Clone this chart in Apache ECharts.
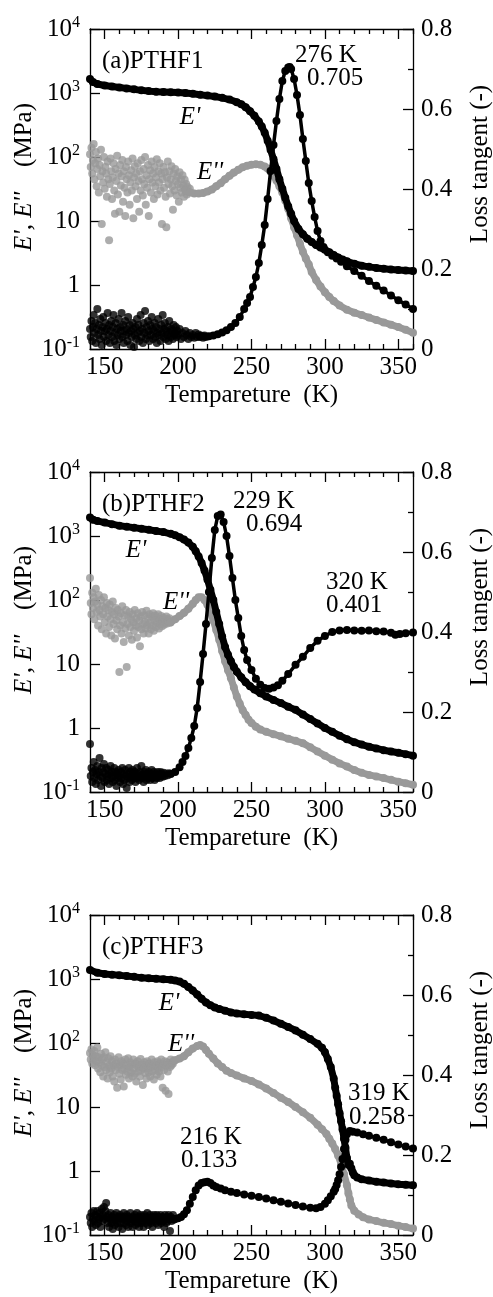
<!DOCTYPE html>
<html>
<head>
<meta charset="utf-8">
<script src="https://cdn.jsdelivr.net/npm/echarts@6/dist/echarts.min.js"></script>
<style>
html,body{margin:0;padding:0;background:#fff;}
#chart{width:493px;height:1297px;}
</style>
</head>
<body>
<div id="chart"></div>
<script>
// ---------------- DATA ----------------
// Tick labels
const xTickMajor = [150, 200, 250, 300, 350];
const xTickMinor = [140, 160, 170, 180, 190, 210, 220, 230, 240, 260, 270, 280, 290, 310, 320, 330, 340, 360];
const panelLabels = ['(a)PTHF1', '(b)PTHF2', '(c)PTHF3'];

// Panel (a) PTHF1  — [temperature K, value]
const aEp = [[140,1650],[142,1480],[145,1380],[150,1310],[155,1260],[160,1220],[165,1180],[170,1140],[175,1100],[180,1070],[185,1050],[190,1040],[195,1030],[200,1020],[205,1000],[210,970],[215,940],[220,910],[225,880],[230,840],[235,790],[240,720],[243,670],[246,600],[249,520],[252,440],[255,360],[257,300],[259,240],[261,180],[263,130],[265,92],[267,65],[269,45],[271,32],[273,23],[275,17],[277,13],[279,10],[282,7.5],[285,6.2],[288,5.3],[291,4.7],[294,4.2],[297,3.85],[300,3.55],[303,3.25],[306,2.95],[309,2.7],[312,2.5],[315,2.35],[320,2.15],[325,2.0],[330,1.92],[335,1.85],[340,1.8],[345,1.75],[350,1.71],[355,1.68],[360,1.65]];
const aEpp = [[205,30],[208,28],[211,27],[214,27],[217,27.5],[220,29],[223,31],[226,35],[229,39],[232,45],[235,51],[238,57],[241,63],[244,69],[247,73],[250,76],[253,77],[256,76],[259,71],[261,66],[263,59],[265,51],[267,43],[269,35],[271,28],[273,21],[275,15.5],[277,11],[279,8],[281,6],[283,4.4],[285,3.3],[287,2.6],[289,2.1],[291,1.6],[294,1.2],[297,0.95],[300,0.77],[303,0.65],[306,0.56],[310,0.48],[315,0.41],[320,0.37],[325,0.34],[330,0.31],[335,0.285],[340,0.26],[345,0.24],[350,0.22],[355,0.2],[360,0.18]];
const aEppNoise = [[140,110],[140.5,70],[141,140],[141.5,55],[142,90],[142.5,160],[143,45],[143.5,80],[144,120],[144.5,35],[145,65],[145.5,95],[146,28],[146.5,75],[147,50],[147.5,130],[148,9],[148.5,60],[149,40],[149.5,100],[150,32],[150.5,70],[151,55],[151.5,24],[152,85],[152.5,45],[153,5],[153.5,38],[154,95],[154.5,60],[155,22],[155.5,48],[156,80],[156.5,30],[157,13],[157.5,65],[158,42],[158.5,105],[159,26],[159.5,55],[160,14],[160.5,75],[161,36],[161.5,50],[162,90],[162.5,20],[163,60],[163.5,33],[164,12],[164.5,70],[165,45],[165.5,28],[166,85],[166.5,52],[167,18],[167.5,40],[168,62],[168.5,30],[169,95],[169.5,11],[170,48],[170.5,72],[171,35],[171.5,55],[172,22],[172.5,80],[173,42],[173.5,14],[174,60],[174.5,30],[175,90],[175.5,45],[176,25],[176.5,65],[177,38],[177.5,100],[178,18],[178.5,52],[179,33],[179.5,75],[180,12],[180.5,45],[181,62],[181.5,28],[182,85],[182.5,40],[183,55],[183.5,22],[184,70],[184.5,35],[185,48],[185.5,92],[186,26],[186.5,60],[187,40],[187.5,80],[188,30],[188.5,55],[189,9],[189.5,45],[190,70],[190.5,33],[191,58],[191.5,24],[192,8],[192.5,48],[193,85],[193.5,38],[194,60],[194.5,27],[195,45],[195.5,72],[196,35],[196.5,15],[197,55],[197.5,30],[198,65],[198.5,42],[199,25],[199.5,50],[200,38],[200.5,20],[201,58],[201.5,33],[202,45],[202.5,28],[203,52],[203.5,36],[204,24],[204.5,44],[205,31],[205.5,38],[206,26],[206.5,34],[207,29],[208,32]];
const aTan = [[215,0.032],[218,0.031],[221,0.032],[224,0.034],[227,0.037],[230,0.041],[233,0.047],[236,0.055],[239,0.065],[242,0.08],[245,0.1],[247,0.115],[249,0.13],[251,0.155],[253,0.18],[255,0.215],[257,0.26],[259,0.31],[261,0.375],[263,0.445],[265,0.51],[267,0.57],[269,0.625],[271,0.67],[273,0.695],[275,0.704],[276,0.705],[277,0.7],[279,0.675],[281,0.635],[283,0.585],[285,0.525],[287,0.47],[289,0.415],[291,0.37],[293,0.33],[295,0.295],[297,0.27],[299,0.255],[302,0.242],[305,0.233],[308,0.226],[311,0.218],[315,0.207],[320,0.195],[325,0.183],[330,0.17],[335,0.158],[340,0.146],[345,0.134],[350,0.122],[355,0.111],[360,0.1]];
const aTanNoise = [[140,0.05],[140.5,0.03],[141,0.07],[141.5,0.02],[142,0.055],[142.5,0.085],[143,0.04],[143.5,0.065],[144,0.015],[144.5,0.05],[145,0.1],[145.5,0.035],[146,0.06],[146.5,0.025],[147,0.075],[147.5,0.045],[148,0.01],[148.5,0.055],[149,0.08],[149.5,0.03],[150,0.045],[150.5,0.065],[151,0.02],[151.5,0.05],[152,0.09],[152.5,0.035],[153,0.06],[153.5,0.015],[154,0.045],[154.5,0.07],[155,0.03],[155.5,0.055],[156,0.085],[156.5,0.02],[157,0.04],[157.5,0.065],[158,0.01],[158.5,0.05],[159,0.035],[159.5,0.075],[160,0.025],[160.5,0.055],[161,0.045],[161.5,0.09],[162,0.03],[162.5,0.06],[163,0.015],[163.5,0.045],[164,0.07],[164.5,0.035],[165,0.05],[165.5,0.02],[166,0.08],[166.5,0.04],[167,0.06],[167.5,0.01],[168,0.045],[168.5,0.03],[169,0.065],[169.5,0.05],[170,0.005],[170.5,0.035],[171,0.055],[171.5,0.025],[172,0.075],[172.5,0.04],[173,0.06],[173.5,0.02],[174,0.045],[174.5,0.085],[175,0.03],[175.5,0.05],[176,0.015],[176.5,0.065],[177,0.04],[177.5,0.095],[178,0.025],[178.5,0.055],[179,0.035],[179.5,0.07],[180,0.045],[180.5,0.02],[181,0.06],[181.5,0.035],[182,0.08],[182.5,0.05],[183,0.025],[183.5,0.045],[184,0.065],[184.5,0.03],[185,0.055],[185.5,0.015],[186,0.04],[186.5,0.075],[187,0.035],[187.5,0.05],[188,0.02],[188.5,0.06],[189,0.04],[189.5,0.085],[190,0.03],[190.5,0.05],[191,0.065],[191.5,0.025],[192,0.045],[192.5,0.035],[193,0.055],[193.5,0.02],[194,0.07],[194.5,0.04],[195,0.03],[195.5,0.05],[196,0.045],[196.5,0.025],[197,0.06],[197.5,0.035],[198,0.04],[198.5,0.055],[199,0.03],[199.5,0.045],[200,0.035],[201,0.05],[202,0.025],[203,0.04],[204,0.03],[205,0.045],[206,0.035],[207,0.025],[208,0.04],[209,0.03],[210,0.035],[211,0.028],[212,0.04],[213,0.03],[214,0.036],[215,0.03],[216,0.033],[217,0.028],[218,0.034],[219,0.03]];

// Panel (b) PTHF2
const bEp = [[140,1950],[142,1800],[145,1720],[150,1620],[155,1530],[160,1450],[165,1400],[170,1350],[175,1300],[180,1250],[185,1200],[190,1150],[195,1080],[198,1030],[201,960],[204,880],[207,790],[210,680],[212,580],[214,480],[216,380],[218,290],[220,210],[222,145],[224,100],[226,65],[228,42],[230,27],[232,18.5],[234,14],[236,11],[238,9],[240,7.6],[243,6.2],[246,5.2],[249,4.5],[252,4.0],[256,3.5],[260,3.1],[265,2.75],[270,2.45],[275,2.15],[280,1.92],[285,1.62],[290,1.38],[295,1.18],[300,1.0],[305,0.87],[310,0.76],[315,0.67],[320,0.6],[325,0.55],[330,0.51],[335,0.48],[340,0.45],[345,0.43],[350,0.41],[355,0.39],[360,0.37]];
const bEpp = [[195,45],[198,50],[201,56],[204,63],[207,73],[210,87],[212,100],[214,110],[216,110],[218,100],[220,84],[222,66],[224,48],[226,34],[228,24],[230,16],[232,11],[234,8],[236,6],[238,4.3],[240,3.1],[242,2.4],[244,1.9],[246,1.6],[248,1.35],[250,1.2],[253,1.05],[256,0.95],[260,0.87],[265,0.8],[270,0.74],[275,0.68],[280,0.63],[285,0.58],[290,0.5],[295,0.43],[300,0.37],[305,0.32],[310,0.28],[315,0.25],[320,0.22],[325,0.2],[330,0.185],[335,0.175],[340,0.165],[345,0.155],[350,0.145],[355,0.137],[360,0.13]];
const bEppNoise = [[140,220],[140.5,90],[141,60],[141.5,130],[142,75],[142.5,110],[143,50],[143.5,95],[144,150],[144.5,65],[145,85],[145.5,40],[146,120],[146.5,70],[147,55],[147.5,100],[148,35],[148.5,80],[149,60],[149.5,110],[150,45],[150.5,75],[151,30],[151.5,90],[152,55],[152.5,70],[153,38],[153.5,85],[154,50],[154.5,28],[155,65],[155.5,95],[156,42],[156.5,60],[157,25],[157.5,75],[158,48],[158.5,35],[159,70],[159.5,55],[160,7.5],[160.5,40],[161,62],[161.5,30],[162,80],[162.5,45],[163,22],[163.5,58],[164,36],[164.5,70],[165,9],[165.5,42],[166,55],[166.5,28],[167,65],[167.5,38],[168,50],[168.5,24],[169,60],[169.5,45],[170,33],[170.5,70],[171,40],[171.5,52],[172,26],[172.5,62],[173,38],[173.5,48],[174,19],[174.5,55],[175,35],[175.5,65],[176,42],[176.5,30],[177,58],[177.5,45],[178,36],[178.5,68],[179,40],[179.5,52],[180,30],[180.5,60],[181,44],[181.5,35],[182,55],[182.5,40],[183,62],[183.5,33],[184,48],[184.5,57],[185,38],[185.5,52],[186,44],[186.5,60],[187,36],[187.5,50],[188,42],[188.5,56],[189,39],[189.5,47],[190,53],[190.5,41],[191,49],[191.5,45],[192,55],[192.5,43],[193,50],[193.5,46],[194,52],[194.5,44]];
const bTan = [[195,0.045],[198,0.05],[201,0.062],[203,0.075],[205,0.09],[207,0.11],[209,0.135],[211,0.165],[213,0.21],[215,0.275],[217,0.345],[219,0.42],[221,0.5],[223,0.585],[225,0.655],[227,0.69],[229,0.694],[231,0.675],[233,0.64],[235,0.59],[237,0.535],[239,0.48],[241,0.435],[243,0.39],[245,0.355],[247,0.33],[250,0.305],[253,0.283],[256,0.268],[259,0.26],[262,0.258],[265,0.261],[268,0.267],[271,0.278],[275,0.295],[280,0.318],[285,0.338],[290,0.36],[295,0.378],[300,0.39],[305,0.4],[310,0.404],[315,0.405],[320,0.404],[325,0.403],[330,0.404],[335,0.402],[340,0.401],[345,0.398],[348,0.393],[351,0.395],[355,0.397],[360,0.399]];
const bTanNoise = [[140,0.12],[140.5,0.04],[141,0.06],[141.5,0.025],[142,0.05],[142.5,0.075],[143,0.035],[143.5,0.055],[144,0.02],[144.5,0.045],[145,0.065],[145.5,0.03],[146,0.05],[146.5,0.085],[147,0.04],[147.5,0.015],[148,0.06],[148.5,0.035],[149,0.05],[149.5,0.07],[150,0.025],[150.5,0.045],[151,0.06],[151.5,0.03],[152,0.04],[152.5,0.055],[153,0.02],[153.5,0.045],[154,0.065],[154.5,0.035],[155,0.05],[155.5,0.025],[156,0.04],[156.5,0.06],[157,0.03],[157.5,0.05],[158,0.015],[158.5,0.045],[159,0.035],[159.5,0.055],[160,0.04],[160.5,0.025],[161,0.05],[161.5,0.035],[162,0.06],[162.5,0.02],[163,0.045],[163.5,0.03],[164,0.055],[164.5,0.04],[165,0.01],[165.5,0.045],[166,0.035],[166.5,0.06],[167,0.025],[167.5,0.05],[168,0.04],[168.5,0.03],[169,0.055],[169.5,0.045],[170,0.035],[170.5,0.05],[171,0.025],[171.5,0.04],[172,0.06],[172.5,0.035],[173,0.045],[173.5,0.03],[174,0.05],[174.5,0.04],[175,0.065],[175.5,0.035],[176,0.045],[176.5,0.025],[177,0.05],[177.5,0.04],[178,0.055],[178.5,0.03],[179,0.045],[179.5,0.035],[180,0.05],[180.5,0.04],[181,0.03],[181.5,0.045],[182,0.055],[182.5,0.035],[183,0.04],[183.5,0.05],[184,0.03],[184.5,0.045],[185,0.04],[185.5,0.035],[186,0.05],[186.5,0.04],[187,0.045],[187.5,0.035],[188,0.05],[188.5,0.04],[189,0.045],[189.5,0.038],[190,0.048],[191,0.04],[192,0.046],[193,0.042],[194,0.047]];

// Panel (c) PTHF3
const cEp = [[140,1380],[145,1250],[150,1200],[155,1170],[160,1140],[165,1110],[170,1080],[175,1050],[180,1030],[185,1010],[190,990],[195,970],[198,950],[201,910],[204,840],[207,750],[210,660],[213,570],[216,490],[219,430],[222,390],[225,360],[228,340],[232,320],[236,300],[240,290],[245,282],[250,275],[255,268],[260,248],[265,225],[270,200],[275,178],[280,157],[285,135],[290,115],[295,97],[298,84],[300,72],[302,56],[304,42],[306,28],[307,20],[308,15],[309,11],[310,8],[311,6],[312,4.5],[313,3.2],[314,2.3],[315,1.6],[316,1.25],[317,1.3],[318,1.1],[319,0.95],[320,0.86],[322,0.79],[325,0.74],[330,0.71],[335,0.68],[340,0.66],[345,0.64],[350,0.62],[355,0.61],[360,0.6]];
const cEpp = [[198,54],[201,57],[204,62],[207,72],[210,82],[213,90],[215,93],[217,88],[219,78],[221,68],[224,57],[227,48],[230,42],[233,37],[236,34],[240,31],[245,28],[250,25.5],[255,22.5],[260,19.5],[265,16.5],[270,14],[275,12],[280,10],[285,8.3],[290,6.8],[295,5.3],[298,4.5],[301,3.8],[303,3.2],[305,2.7],[307,2.2],[309,1.75],[311,1.3],[313,0.9],[315,0.6],[316,0.45],[317,0.36],[318,0.29],[320,0.24],[323,0.21],[326,0.19],[330,0.175],[335,0.165],[340,0.155],[345,0.148],[350,0.14],[355,0.133],[360,0.126]];
const cEppNoise = [[140,70],[140.5,55],[141,80],[141.5,48],[142,65],[142.5,58],[143,75],[143.5,45],[144,62],[144.5,52],[145,85],[145.5,40],[146,60],[146.5,50],[147,35],[147.5,68],[148,45],[148.5,55],[149,30],[149.5,60],[150,42],[150.5,72],[151,38],[151.5,50],[152,28],[152.5,58],[153,44],[153.5,35],[154,62],[154.5,40],[155,52],[155.5,30],[156,45],[156.5,25],[157,55],[157.5,38],[158,48],[158.5,20],[159,42],[159.5,60],[160,33],[160.5,45],[161,27],[161.5,52],[162,38],[162.5,48],[163,21],[163.5,40],[164,55],[164.5,32],[165,45],[165.5,36],[166,58],[166.5,28],[167,42],[167.5,50],[168,35],[168.5,46],[169,30],[169.5,55],[170,40],[170.5,33],[171,48],[171.5,25],[172,44],[172.5,52],[173,36],[173.5,42],[174,30],[174.5,56],[175,38],[175.5,46],[176,22],[176.5,40],[177,50],[177.5,34],[178,45],[178.5,28],[179,52],[179.5,40],[180,35],[180.5,48],[181,30],[181.5,42],[182,55],[182.5,36],[183,44],[183.5,27],[184,50],[184.5,38],[185,45],[185.5,32],[186,52],[186.5,40],[187,36],[187.5,48],[188,30],[188.5,55],[189,42],[189.5,20],[190,46],[190.5,38],[191,52],[191.5,18],[192,44],[192.5,50],[193,36],[193.5,16],[194,48],[194.5,42],[195,55],[195.5,45],[196,50],[196.5,48],[197,53]];
const cTan = [[198,0.04],[200,0.042],[202,0.045],[204,0.052],[206,0.062],[208,0.078],[210,0.095],[212,0.112],[214,0.124],[216,0.13],[218,0.132],[220,0.133],[222,0.13],[224,0.124],[226,0.12],[229,0.116],[232,0.112],[236,0.108],[240,0.105],[245,0.101],[250,0.098],[255,0.095],[260,0.091],[265,0.087],[270,0.083],[275,0.079],[280,0.075],[285,0.071],[290,0.068],[294,0.067],[297,0.07],[300,0.078],[302,0.087],[304,0.097],[306,0.108],[307,0.115],[308,0.125],[309,0.137],[310,0.152],[311,0.17],[312,0.19],[313,0.215],[314,0.238],[315,0.252],[317,0.26],[319,0.258],[322,0.256],[326,0.252],[330,0.248],[335,0.243],[340,0.238],[345,0.232],[350,0.226],[355,0.221],[360,0.216]];
const cTanNoise = [[140,0.045],[140.5,0.03],[141,0.055],[141.5,0.02],[142,0.04],[142.5,0.06],[143,0.035],[143.5,0.05],[144,0.025],[144.5,0.045],[145,0.06],[145.5,0.03],[146,0.04],[146.5,0.055],[147,0.02],[147.5,0.045],[148,0.065],[148.5,0.035],[149,0.05],[149.5,0.07],[150,0.04],[150.5,0.06],[151,0.08],[151.5,0.045],[152,0.03],[152.5,0.05],[153,0.02],[153.5,0.04],[154,0.055],[154.5,0.03],[155,0.045],[155.5,0.015],[156,0.035],[156.5,0.05],[157,0.025],[157.5,0.04],[158,0.055],[158.5,0.03],[159,0.045],[159.5,0.02],[160,0.04],[160.5,0.05],[161,0.03],[161.5,0.045],[162,0.015],[162.5,0.04],[163,0.055],[163.5,0.03],[164,0.045],[164.5,0.025],[165,0.05],[165.5,0.035],[166,0.02],[166.5,0.045],[167,0.04],[167.5,0.055],[168,0.03],[168.5,0.04],[169,0.02],[169.5,0.045],[170,0.035],[170.5,0.05],[171,0.025],[171.5,0.04],[172,0.055],[172.5,0.03],[173,0.045],[173.5,0.02],[174,0.04],[174.5,0.05],[175,0.03],[175.5,0.045],[176,0.035],[176.5,0.02],[177,0.05],[177.5,0.04],[178,0.03],[178.5,0.045],[179,0.055],[179.5,0.025],[180,0.04],[180.5,0.035],[181,0.05],[181.5,0.03],[182,0.045],[182.5,0.02],[183,0.04],[183.5,0.05],[184,0.035],[184.5,0.045],[185,0.03],[185.5,0.05],[186,0.04],[186.5,0.025],[187,0.045],[187.5,0.035],[188,0.05],[188.5,0.03],[189,0.04],[189.5,0.045],[190,0.035],[190.5,0.02],[191,0.05],[191.5,0.04],[192,0.03],[192.5,0.045],[193,0.035],[193.5,0.05],[194,0.04],[194.5,0.01],[195,0.045],[195.5,0.035],[196,0.04],[196.5,0.05],[197,0.038]];

// Peak annotations (text)
const aNotes = [['276 K', 326, 55], ['0.705', 335, 78]];
const bNotes = [['229 K', 264, 501], ['0.694', 274, 524], ['320 K', 357, 582], ['0.401', 354, 605]];
const cNotes = [['216 K', 211, 1137], ['0.133', 209, 1160], ['319 K', 379, 1093], ['0.258', 377, 1117]];

// ---------------- CHART ----------------
const FONT = "'Liberation Serif', 'Times New Roman', serif";
const FS = 25;
const BLACK = '#000000';
const GRAY = '#999999';
const GRID_LEFT = 90, GRID_W = 323, GRID_H = 320;
const panels = [
  { top: 29,  Ep: aEp, Epp: aEpp, EppN: aEppNoise, tan: aTan, tanN: aTanNoise, notes: aNotes, ep1: [190,117], ep2: [210,172] },
  { top: 472, Ep: bEp, Epp: bEpp, EppN: bEppNoise, tan: bTan, tanN: bTanNoise, notes: bNotes, ep1: [136,550], ep2: [176,602] },
  { top: 915, Ep: cEp, Epp: cEpp, EppN: cEppNoise, tan: cTan, tanN: cTanNoise, notes: cNotes, ep1: [169,1003], ep2: [181,1044] }
];

function logLabel(v) {
  const e = Math.round(Math.log10(v));
  if (e === 0) return '{b|1}';
  if (e === 1) return '{b|10}';
  return '{b|10}{s|' + e + '}';
}

const grid = [], xAxis = [], yAxis = [], series = [], graphic = [];
const axisLineStyle = { color: BLACK, width: 1.3 };

panels.forEach((p, i) => {
  grid.push({ left: GRID_LEFT, width: GRID_W, top: p.top, height: GRID_H });
  const xBase = { type: 'value', gridIndex: i, min: 140, max: 360, splitLine: { show: false } };
  xAxis.push(Object.assign({}, xBase, {
    position: 'bottom',
    axisLine: { show: true, onZero: false, lineStyle: axisLineStyle },
    axisTick: { show: true, inside: true, length: 10, customValues: xTickMajor, lineStyle: axisLineStyle },
    axisLabel: { show: true, customValues: xTickMajor, fontSize: FS, fontFamily: FONT, color: BLACK, margin: 6 }
  }));
  xAxis.push(Object.assign({}, xBase, {
    position: 'bottom',
    axisLine: { show: false, onZero: false },
    axisTick: { show: true, inside: true, length: 5, customValues: xTickMinor, lineStyle: axisLineStyle },
    axisLabel: { show: false }
  }));
  xAxis.push(Object.assign({}, xBase, {
    position: 'top',
    axisLine: { show: true, onZero: false, lineStyle: axisLineStyle },
    axisTick: { show: true, inside: true, length: 10, customValues: xTickMajor, lineStyle: axisLineStyle },
    axisLabel: { show: false }
  }));
  xAxis.push(Object.assign({}, xBase, {
    position: 'top',
    axisLine: { show: false, onZero: false },
    axisTick: { show: true, inside: true, length: 5, customValues: xTickMinor, lineStyle: axisLineStyle },
    axisLabel: { show: false }
  }));
  yAxis.push({
    type: 'log', logBase: 10, gridIndex: i, min: 0.1, max: 10000, position: 'left',
    splitLine: { show: false },
    axisLine: { show: true, onZero: false, lineStyle: axisLineStyle },
    axisTick: { show: true, inside: true, length: 10, lineStyle: axisLineStyle },
    minorTick: { show: false },
    axisLabel: {
      show: true, margin: 10, color: BLACK, fontFamily: FONT, fontSize: FS,
      formatter: logLabel,
      rich: {
        b: { fontSize: FS, fontFamily: FONT, color: BLACK, lineHeight: 29 },
        s: { fontSize: 16, fontFamily: FONT, color: BLACK, verticalAlign: 'top', lineHeight: 16 }
      }
    }
  });
  yAxis.push({
    type: 'value', gridIndex: i, min: 0, max: 0.8, interval: 0.2, position: 'right',
    splitLine: { show: false },
    axisLine: { show: true, onZero: false, lineStyle: axisLineStyle },
    axisTick: { show: true, inside: true, length: 10, lineStyle: axisLineStyle },
    minorTick: { show: true, splitNumber: 2, length: 5, lineStyle: axisLineStyle },
    axisLabel: {
      show: true, margin: 8, color: BLACK, fontFamily: FONT, fontSize: FS,
      formatter: v => (Math.abs(v) < 1e-9 ? '0' : v.toFixed(1))
    }
  });

  const xi = 4 * i, yl = 2 * i, yr = 2 * i + 1;
  const scatterBase = { type: 'scatter', xAxisIndex: xi, symbol: 'circle', symbolSize: 8, silent: true, animation: false };
  const lineBase = { type: 'line', xAxisIndex: xi, symbol: 'circle', symbolSize: 8, showSymbol: true, silent: true, animation: false, smooth: false };
  series.push(Object.assign({}, scatterBase, { yAxisIndex: yl, data: p.EppN, itemStyle: { color: GRAY }, z: 2 }));
  series.push(Object.assign({}, lineBase, { yAxisIndex: yl, data: p.Epp, itemStyle: { color: GRAY }, lineStyle: { color: GRAY, width: 7 }, z: 2 }));
  series.push(Object.assign({}, scatterBase, { yAxisIndex: yr, data: p.tanN, itemStyle: { color: BLACK }, z: 3 }));
  series.push(Object.assign({}, lineBase, { yAxisIndex: yr, data: p.tan, itemStyle: { color: BLACK }, lineStyle: { color: BLACK, width: 3.5 }, z: 3 }));
  series.push(Object.assign({}, lineBase, { yAxisIndex: yl, data: p.Ep, itemStyle: { color: BLACK }, lineStyle: { color: BLACK, width: 7 }, z: 3 }));

  const txt = (s, x, y, extra) => ({
    type: 'text', x: x, y: y, silent: true, z: 10,
    style: Object.assign({ text: s, fill: BLACK, fontSize: FS, fontFamily: FONT,
      align: 'center', verticalAlign: 'middle', textAlign: 'center', textVerticalAlign: 'middle' }, extra || {})
  });
  graphic.push(txt(panelLabels[i], 102, p.top + 32, { align: 'left', textAlign: 'left' }));
  p.notes.forEach(n => graphic.push(txt(n[0], n[1], n[2])));
  graphic.push(txt("E'", p.ep1[0], p.ep1[1], { fontStyle: 'italic' }));
  graphic.push(txt("E''", p.ep2[0], p.ep2[1], { fontStyle: 'italic' }));
  graphic.push(txt('Tempareture  (K)', GRID_LEFT + GRID_W / 2, p.top + GRID_H + 46));
  const lt = txt("{i|E', E''}    (MPa)", 0, 0);
  lt.x = 24; lt.y = p.top + GRID_H / 2 - 12; lt.rotation = Math.PI / 2;
  lt.style.rich = { i: { fontStyle: 'italic', fontSize: FS, fontFamily: FONT, fill: BLACK } };
  graphic.push(lt);
  const rt = txt('Loss tangent (-)', 0, 0);
  rt.x = 480; rt.y = p.top + GRID_H / 2 - 25; rt.rotation = Math.PI / 2;
  graphic.push(rt);
});

const chart = echarts.init(document.getElementById('chart'), null, { renderer: 'canvas' });
chart.setOption({
  animation: false,
  backgroundColor: '#ffffff',
  textStyle: { fontFamily: FONT },
  grid: grid,
  xAxis: xAxis,
  yAxis: yAxis,
  series: series,
  graphic: { elements: graphic }
});
</script>
</body>
</html>
